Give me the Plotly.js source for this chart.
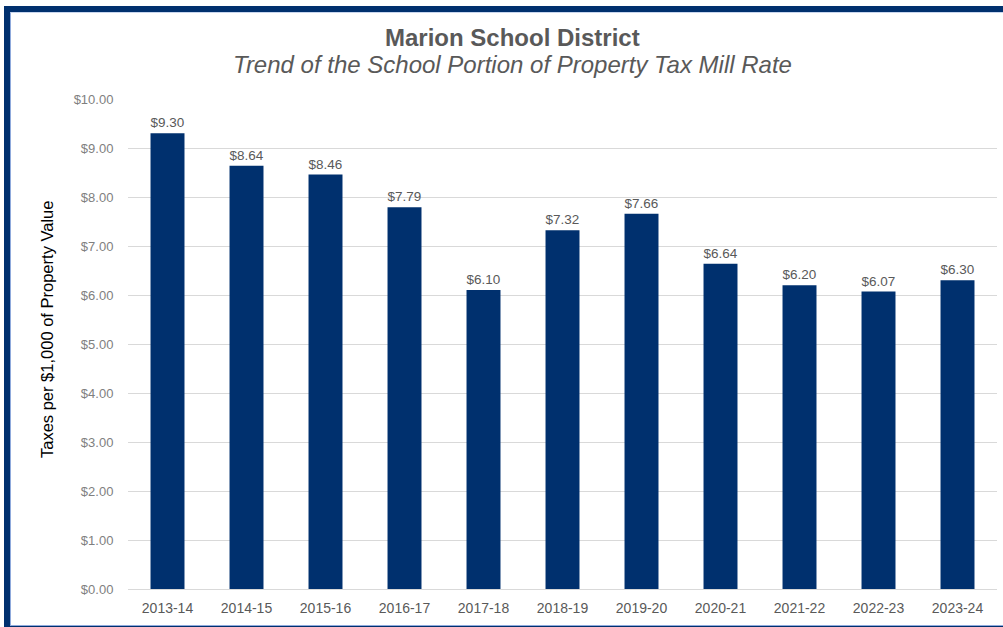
<!DOCTYPE html>
<html>
<head>
<meta charset="utf-8">
<script src="https://cdn.plot.ly/plotly-3.0.1.min.js"></script>
<style>
  html, body { margin:0; padding:0; background:#ffffff; width:1003px; height:627px; overflow:hidden; }
  #frame { position:absolute; left:4px; top:6px; width:1020px; height:626px; box-sizing:border-box;
           border:6px solid #00306E; background:#ffffff; }
  #inner { position:absolute; left:0; top:0; right:0; bottom:0; border-left:1px solid #8FAADC; border-top:1px solid #C9D6EE; border-bottom:1px solid #8FAADC; }
  #chart { position:absolute; left:0; top:0; width:1003px; height:627px; }
</style>
</head>
<body>
<div id="frame"><div id="inner"></div></div>
<div id="chart"></div>
<script>
const years = ["2013-14","2014-15","2015-16","2016-17","2017-18","2018-19","2019-20","2020-21","2021-22","2022-23","2023-24"];
const millRates = [9.30, 8.64, 8.46, 7.79, 6.10, 7.32, 7.66, 6.64, 6.20, 6.07, 6.30];
const yTickValues = [0,1,2,3,4,5,6,7,8,9,10];
const titleMain = "Marion School District";
const titleSub = "Trend of the School Portion of Property Tax Mill Rate";
const yAxisTitle = "Taxes per $1,000 of Property Value";

const sans = "Liberation Sans, Arial, sans-serif";

const trace = {
  type: "bar",
  x: years,
  y: millRates,
  marker: { color: "#00306E" },
  width: 0.43,
  text: millRates.map(v => "$" + v.toFixed(2)),
  textposition: "outside",
  textfont: { family: sans, size: 14, color: "#595959" },
  cliponaxis: false,
  hoverinfo: "x+y"
};

const layout = {
  width: 1003,
  height: 627,
  margin: { l: 128, r: 6, t: 99, b: 38 },
  paper_bgcolor: "rgba(0,0,0,0)",
  plot_bgcolor: "rgba(0,0,0,0)",
  showlegend: false,
  annotations: [
    { text: "<b>" + titleMain + "</b>", xref: "paper", yref: "paper", x: 0.4419, y: 1.1265,
      xanchor: "center", yanchor: "middle", showarrow: false,
      font: { family: sans, size: 24, color: "#595959" } },
    { text: "<i>" + titleSub + "</i>", xref: "paper", yref: "paper", x: 0.4419, y: 1.0714,
      xanchor: "center", yanchor: "middle", showarrow: false,
      font: { family: sans, size: 24, color: "#595959" } },
    { text: yAxisTitle, xref: "paper", yref: "paper", x: -0.0932, y: 0.5286,
      xanchor: "center", yanchor: "middle", textangle: -90, showarrow: false,
      font: { family: sans, size: 16.5, color: "#000000" } }
  ],
  xaxis: {
    type: "category",
    showgrid: false,
    showline: false,
    zeroline: false,
    ticks: "outside", ticklen: 6, tickcolor: "rgba(0,0,0,0)",
    tickfont: { family: sans, size: 14, color: "#595959" }
  },
  yaxis: {
    range: [0, 10],
    tickvals: yTickValues,
    ticktext: yTickValues.map(v => "$" + v.toFixed(2)),
    showgrid: true,
    gridcolor: "#D9D9D9",
    gridwidth: 1,
    zeroline: true,
    zerolinecolor: "#D9D9D9",
    zerolinewidth: 1,
    showline: false,
    ticks: "outside", ticklen: 11, tickcolor: "rgba(0,0,0,0)",
    tickfont: { family: sans, size: 13, color: "#7F7F7F" }
  }
};

Plotly.newPlot("chart", [trace], layout, { displayModeBar: false, responsive: false });
</script>
</body>
</html>
